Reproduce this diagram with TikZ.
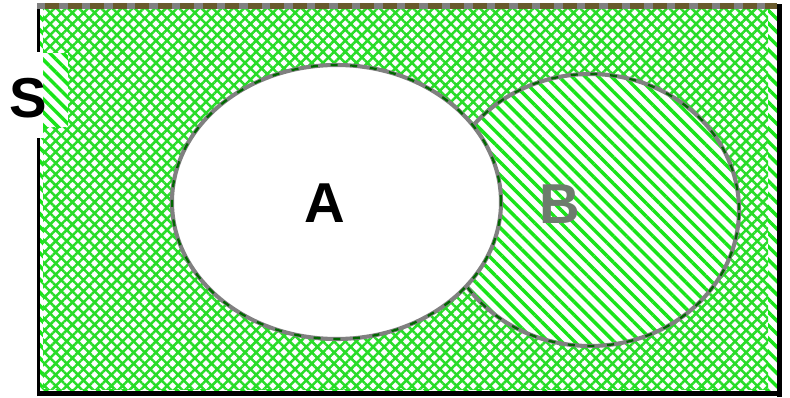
\documentclass[tikz,border=0pt]{standalone}
\usepackage{fontspec}
\setmainfont{Liberation Sans}
\usetikzlibrary{patterns.meta}
\definecolor{hatchgreen}{RGB}{40,220,40}
\definecolor{stripegreen}{RGB}{25,228,25}
\definecolor{rimgray}{RGB}{128,128,128}
\definecolor{rimgreen}{RGB}{0,105,0}
\definecolor{topolive}{RGB}{105,90,45}
\begin{document}
\begin{tikzpicture}[x=0.025cm,y=0.025cm,
  cross/.style={preaction={fill=white},pattern={Hatch[angle=45,distance=5.6pt,line width=1.8pt]},pattern color=hatchgreen},
  stripes/.style={preaction={fill=white},pattern={Lines[angle=-45,distance=6.6pt,line width=2.5pt]},pattern color=stripegreen},
  rim/.style={draw=rimgray,line width=2.9pt,postaction={draw=rimgreen,line width=1.6pt,dash pattern=on 5pt off 9pt}},
  lab/.style={font=\bfseries\fontsize{40}{40}\selectfont,inner sep=0pt}]
\useasboundingbox (0,0) rectangle (790,397);
\fill[stripes] (39,4) rectangle (778,391);
\fill[cross] (43,8) rectangle (768,388);
\path[stripes,rim] (590,187) ellipse [x radius=149,y radius=136];
\path[fill=white,rim] (336.5,195) ellipse [x radius=164.5,y radius=137];
\draw[line width=2.4pt] (38.5,1) -- (38.5,392);
\draw[line width=4.2pt] (37,3.5) -- (782,3.5);
\draw[line width=3.5pt] (779.5,0) -- (779.5,393);
\draw[topolive,line width=4.2pt,postaction={draw=rimgray,dash pattern=on 6pt off 10pt}] (37,391) -- (777,391);
\fill[white] (0,259) rectangle (43,345);
\fill[stripes] (43,270) rectangle (68,344);
\node[lab] (setS) at (28,299) {S};
\node[lab] (setA) at (325,194) {A};
\node[lab,text=rimgray!85!rimgreen] (setB) at (560,193) {B};
\end{tikzpicture}
\end{document}
